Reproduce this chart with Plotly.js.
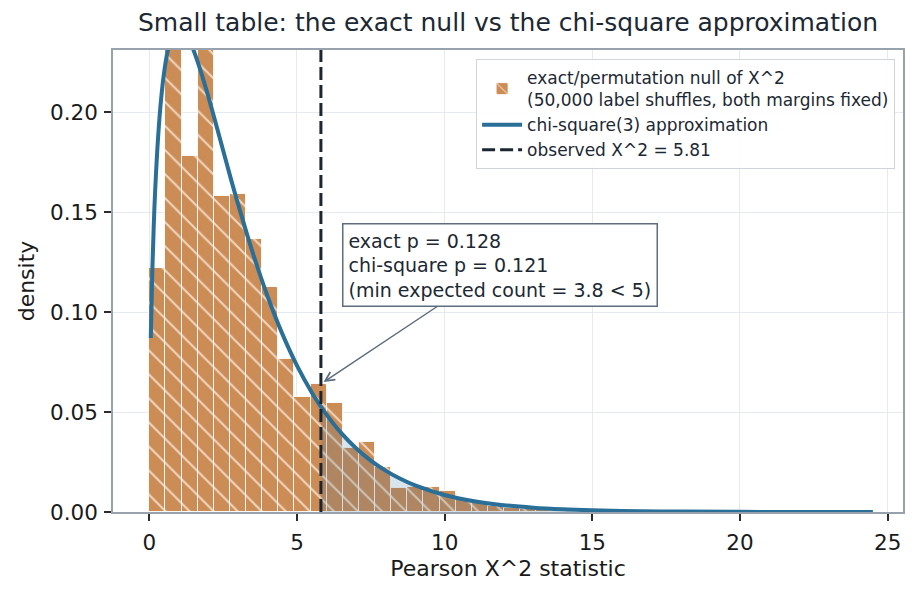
<!DOCTYPE html>
<html><head><meta charset="utf-8">
<script src="https://cdn.plot.ly/plotly-3.0.1.min.js"></script>
<style>html,body{margin:0;padding:0;background:#fff}#chart{width:918px;height:596px}</style>
</head><body><div id="chart"></div>
<script>
// ---- data ----
const binStart = 0;
const binWidth = 0.546;
const exactDensity = [0.122, 0.270, 0.178, 0.250, 0.158, 0.159, 0.1365, 0.1127, 0.0767, 0.0577,
  0.064, 0.0543, 0.0318, 0.035, 0.0227, 0.0118, 0.0125, 0.0127, 0.0104, 0.0065,
  0.0046, 0.0032, 0.0021, 0.0015, 0.0010, 0.0007, 0.0005, 0.0003, 0.0002, 0.00015,
  0.0001, 0.00007, 0.00005];
const chiX = [0.05, 0.1, 0.15, 0.2, 0.3, 0.4, 0.5, 0.6, 0.7, 0.8, 0.9, 1.0, 1.2, 1.4, 1.6, 1.8,
  2.0, 2.25, 2.5, 2.75, 3.0, 3.5, 4.0, 4.5, 5.0, 5.5, 5.81, 6.0, 6.5, 7.0, 7.5, 8.0, 8.5, 9.0,
  10, 11, 12, 13, 14, 15, 16, 18, 20, 22, 24.5];
const chiY = [0.0870, 0.1200, 0.1433, 0.1614, 0.1881, 0.2066, 0.2197, 0.2289, 0.2352, 0.2392,
  0.2413, 0.2420, 0.2398, 0.2344, 0.2267, 0.2176, 0.2076, 0.1943, 0.1807, 0.1672, 0.1542,
  0.1297, 0.1080, 0.0892, 0.0732, 0.0598, 0.0527, 0.0487, 0.0394, 0.0319, 0.0257, 0.0207,
  0.0166, 0.0133, 0.0085, 0.0054, 0.00343, 0.00216, 0.00136, 0.00085, 0.00053, 0.00021,
  0.00008, 0.00003, 0.00001];
const observedX2 = 5.81;
const xTicks = [0, 5, 10, 15, 20, 25];
const yTicks = [0, 0.05, 0.10, 0.15, 0.20];
const yTop = 0.231;
const arrowPoint = [5.9, 0.065];

const binCenters = exactDensity.map((_, i) => binStart + (i + 0.5) * binWidth);
const shadeX = [], shadeY = [];
chiX.forEach((x, i) => { if (x >= observedX2) { shadeX.push(x); shadeY.push(chiY[i]); } });

const FONT = 'DejaVu Sans, Verdana, sans-serif';
const INK = '#1c2833';

const traces = [
  {
    type: 'bar', x: binCenters, y: exactDensity, width: binWidth,
    name: 'exact/permutation null of X^2<br>(50,000 label shuffles, both margins fixed)',
    marker: {
      color: '#CC8C56',
      line: {color: 'rgba(255,255,255,0.85)', width: 1},
      pattern: {shape: '\\', fillmode: 'overlay', fgcolor: '#fff6ec', fgopacity: 0.7, size: 17, solidity: 0.12}
    },
    hoverinfo: 'skip'
  },
  {
    type: 'scatter', mode: 'lines', x: shadeX, y: shadeY, fill: 'tozeroy',
    fillcolor: 'rgba(42,111,151,0.18)', line: {width: 0, shape: 'spline'},
    showlegend: false, hoverinfo: 'skip'
  },
  {
    type: 'scatter', mode: 'lines', x: chiX, y: chiY,
    name: 'chi-square(3) approximation',
    line: {color: '#2a6f97', width: 4, shape: 'spline'}
  },
  {
    type: 'scatter', mode: 'lines', x: [observedX2, observedX2], y: [0, yTop],
    name: 'observed X^2 = ' + observedX2.toFixed(2),
    line: {color: '#1b2631', width: 3, dash: '13px,5px'}
  }
];

const axisCommon = {
  showgrid: true, gridcolor: '#e6e9ed', gridwidth: 1,
  showline: true, linecolor: '#98a2ad', linewidth: 1.5, mirror: true,
  ticks: 'outside', ticklen: 7, tickwidth: 1.5, tickcolor: '#2b2b2b',
  tickfont: {family: FONT, size: 21.5, color: '#1a1a1a'},
  zeroline: false
};

const layout = {
  width: 918, height: 596,
  margin: {l: 113, r: 15, t: 50, b: 84},
  paper_bgcolor: '#ffffff', plot_bgcolor: '#ffffff',
  font: {family: FONT, color: INK},
  title: {
    text: 'Small table: the exact null vs the chi-square approximation',
    font: {family: FONT, size: 25, color: INK},
    x: 0.5, xref: 'paper', xanchor: 'center', y: 0.962, yref: 'container', yanchor: 'middle'
  },
  xaxis: Object.assign({}, axisCommon, {
    range: [-1.23, 25.52], tickvals: xTicks, ticklabelstandoff: 3,
    title: {text: 'Pearson X^2 statistic', font: {family: FONT, size: 22, color: '#1a1a1a'}, standoff: 7}
  }),
  yaxis: Object.assign({}, axisCommon, {
    range: [0, yTop], tickvals: yTicks, tickformat: '.2f', ticklabelstandoff: 2,
    title: {text: 'density', font: {family: FONT, size: 22, color: '#1a1a1a'}, standoff: 9}
  }),
  showlegend: true,
  legend: {
    x: 0.99, xanchor: 'right', y: 0.9805, yanchor: 'top',
    bgcolor: 'rgba(255,255,255,0.92)', bordercolor: '#cfd4da', borderwidth: 1,
    font: {family: FONT, size: 17, color: INK}, itemwidth: 40, tracegroupgap: 0
  },
  annotations: [{
    x: arrowPoint[0], y: arrowPoint[1], xref: 'x', yref: 'y',
    text: 'exact p = 0.128<br>chi-square p = 0.121<br>(min expected count = 3.8 &lt; 5)',
    showarrow: true, ax: 176, ay: -117, arrowhead: 5, arrowsize: 1.2, arrowwidth: 1.5,
    arrowcolor: '#5d6d7e', bordercolor: '#5d6d7e', borderwidth: 1.5, borderpad: 5,
    bgcolor: '#ffffff', align: 'left', font: {family: FONT, size: 19, color: INK}
  }],
  bargap: 0
};

Plotly.newPlot('chart', traces, layout, {displayModeBar: false, responsive: false});
</script></body></html>
